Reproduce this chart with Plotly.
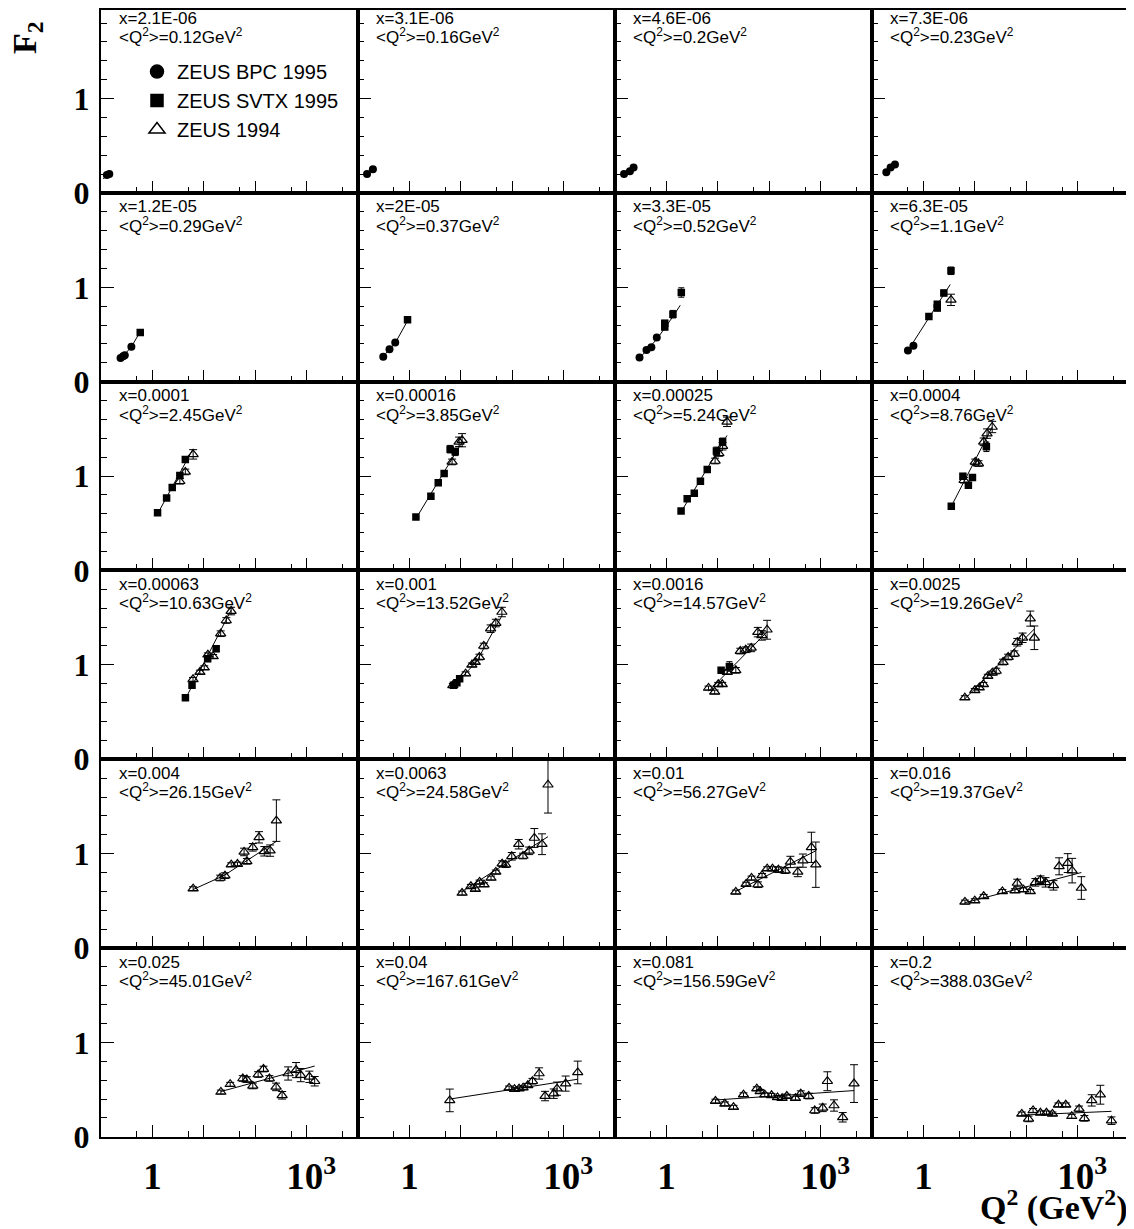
import plotly.graph_objects as go

# ---------------- data ----------------
X_LABELS = ["x=2.1E-06", "x=3.1E-06", "x=4.6E-06", "x=7.3E-06",
            "x=1.2E-05", "x=2E-05", "x=3.3E-05", "x=6.3E-05",
            "x=0.0001", "x=0.00016", "x=0.00025", "x=0.0004",
            "x=0.00063", "x=0.001", "x=0.0016", "x=0.0025",
            "x=0.004", "x=0.0063", "x=0.01", "x=0.016",
            "x=0.025", "x=0.04", "x=0.081", "x=0.2"]
Q2_MEAN = ["0.12", "0.16", "0.2", "0.23", "0.29", "0.37", "0.52", "1.1",
           "2.45", "3.85", "5.24", "8.76", "10.63", "13.52", "14.57", "19.26",
           "26.15", "24.58", "56.27", "19.37", "45.01", "167.61", "156.59", "388.03"]

# ZEUS BPC 1995 (filled circles), per panel
BPC_Q2 = [[0.13, 0.145], [0.15, 0.195], [0.15, 0.195, 0.23], [0.19, 0.23, 0.28],
          [0.24, 0.27, 0.29, 0.39], [0.31, 0.41, 0.53], [0.30, 0.41, 0.51, 0.65], [0.50, 0.64]]
BPC_F2 = [[0.19, 0.20], [0.20, 0.25], [0.20, 0.23, 0.27], [0.22, 0.27, 0.30],
          [0.25, 0.27, 0.28, 0.37], [0.265, 0.343, 0.414], [0.255, 0.336, 0.365, 0.467], [0.33, 0.38]]

# ZEUS SVTX 1995 (filled squares), panels 4..14
SVTX_Q2 = {4: [0.58], 5: [0.92], 6: [0.93, 0.93, 1.34, 1.95],
           7: [1.28, 1.86, 1.86, 2.5, 3.44], 8: [1.26, 1.89, 2.43, 3.42, 4.37],
           9: [1.34, 2.62, 3.64, 4.74, 6.2, 7.8], 10: [1.93, 2.54, 3.49, 4.59, 6.23, 9.4, 12.4],
           11: [3.49, 5.87, 7.5, 9.0, 16.8], 12: [4.39, 5.9, 11.9, 17.4],
           13: [7.2, 8.4, 9.5], 14: [11.6, 16.8]}
SVTX_F2 = {4: [0.52], 5: [0.655], 6: [0.62, 0.58, 0.715, 0.945],
           7: [0.69, 0.78, 0.82, 0.94, 1.175], 8: [0.612, 0.768, 0.878, 1.005, 1.175],
           9: [0.566, 0.786, 0.93, 1.027, 1.285, 1.257], 10: [0.63, 0.761, 0.818, 0.945, 1.069, 1.267, 1.363],
           11: [0.68, 0.998, 0.903, 0.984, 1.31], 12: [0.653, 0.783, 1.065, 1.17],
           13: [0.783, 0.81, 0.854], 14: [0.942, 0.984]}
SVTX_ERR = {4: [0.03], 5: [0.02], 6: [0.03, 0.03, 0.04, 0.05],
            7: [0.02, 0.03, 0.03, 0.03, 0.04], 8: [0.02, 0.02, 0.02, 0.03, 0.03],
            9: [0.02, 0.02, 0.02, 0.02, 0.04, 0.04], 10: [0.02, 0.02, 0.02, 0.02, 0.03, 0.04, 0.04],
            11: [0.02, 0.03, 0.03, 0.03, 0.05], 12: [0.03, 0.02, 0.03, 0.03],
            13: [0.02, 0.02, 0.02], 14: [0.03, 0.05]}

# ZEUS 1994 (open triangles), panels 7..23
Z94_Q2 = {7: [3.44], 8: [3.42, 4.37, 6.2], 9: [6.77, 9.25, 10.6], 10: [8.86, 10.5, 12.4, 15.1],
          11: [6.2, 10.2, 11.8, 14.9, 17.3, 21.8],
          12: [6.17, 8.4, 10.2, 12.0, 15.2, 21.3, 27.4, 34],
          13: [7.0, 12.4, 16.4, 19.1, 23, 28, 38, 48, 63],
          14: [6.6, 8.7, 10.2, 12.2, 15.3, 22.4, 27.4, 35, 44.6, 60, 72, 91],
          15: [6.4, 10, 12.2, 14.7, 17.9, 21.8, 26.1, 35.5, 44.6, 58.6, 67, 85, 120, 144],
          16: [6.2, 20.8, 25.8, 34.2, 45.2, 60.8, 68.9, 89.7, 118.7, 150, 195, 258],
          17: [10.6, 15.7, 19.2, 23.2, 28.4, 38.7, 48, 63.7, 74.5, 98, 134, 162, 214, 270, 380, 497],
          18: [22.4, 35.5, 45.3, 60.4, 72.6, 91.3, 116, 151, 205, 258, 360, 453, 662, 807],
          19: [6.43, 10, 14.9, 34.4, 60.4, 67, 88.5, 120, 151, 190, 238, 339, 437, 643, 783, 1183],
          20: [21.5, 32.6, 57.4, 68.7, 89.8, 114, 145, 189, 255, 334, 437, 624, 769, 1132, 1438],
          21: [6.1, 87, 111, 136, 163, 201, 248, 334, 436, 643, 746, 1097, 1882],
          22: [9.0, 13.7, 20.2, 31.6, 57.4, 66.7, 82, 111, 145, 178, 220, 324, 411, 588, 769, 1099, 1355, 1823, 2690, 4470],
          23: [82, 111, 136, 189, 248, 324, 424, 588, 769, 1069, 1355, 1882, 2770, 4560]}
Z94_F2 = {7: [0.867], 8: [0.945, 1.044, 1.23], 9: [1.15, 1.363, 1.38], 10: [1.16, 1.24, 1.317, 1.575],
          11: [0.956, 1.15, 1.133, 1.363, 1.45, 1.52],
          12: [0.847, 0.924, 0.97, 1.107, 1.09, 1.33, 1.47, 1.57],
          13: [0.783, 0.906, 1.0, 1.03, 1.083, 1.2, 1.383, 1.443, 1.56],
          14: [0.755, 0.713, 0.794, 0.794, 0.924, 0.942, 1.146, 1.16, 1.18, 1.347, 1.312, 1.372],
          15: [0.653, 0.73, 0.758, 0.794, 0.88, 0.914, 0.935, 1.03, 1.083, 1.118, 1.24, 1.287, 1.49, 1.287],
          16: [0.629, 0.742, 0.767, 0.883, 0.89, 1.018, 0.919, 1.067, 1.173, 1.025, 1.032, 1.35],
          17: [0.583, 0.654, 0.625, 0.70, 0.671, 0.742, 0.806, 0.894, 0.883, 0.972, 1.10, 0.975, 1.03, 1.166, 1.10, 1.73],
          18: [0.594, 0.678, 0.742, 0.671, 0.77, 0.841, 0.841, 0.83, 0.82, 0.912, 0.806, 0.926, 1.067, 0.883],
          19: [0.488, 0.502, 0.548, 0.60, 0.608, 0.689, 0.618, 0.60, 0.696, 0.724, 0.696, 0.664, 0.866, 0.90, 0.82, 0.636],
          20: [0.475, 0.557, 0.618, 0.607, 0.539, 0.66, 0.718, 0.618, 0.529, 0.44, 0.671, 0.707, 0.654, 0.636, 0.589],
          21: [0.386, 0.518, 0.504, 0.51, 0.52, 0.546, 0.589, 0.671, 0.432, 0.457, 0.51, 0.564, 0.682],
          22: [0.379, 0.35, 0.314, 0.446, 0.51, 0.482, 0.446, 0.44, 0.418, 0.41, 0.432, 0.41, 0.457, 0.432, 0.279, 0.307, 0.589, 0.332, 0.207, 0.564],
          23: [0.243, 0.19, 0.279, 0.254, 0.254, 0.243, 0.339, 0.339, 0.218, 0.296, 0.196, 0.386, 0.446, 0.171]}
Z94_ERR = {7: [0.06], 8: [0.03, 0.03, 0.05], 9: [0.03, 0.05, 0.07], 10: [0.03, 0.03, 0.04, 0.05],
           11: [0.03, 0.03, 0.03, 0.04, 0.05, 0.06],
           12: [0.02, 0.02, 0.02, 0.02, 0.02, 0.03, 0.03, 0.04],
           13: [0.02, 0.02, 0.02, 0.02, 0.03, 0.03, 0.04, 0.04, 0.05],
           14: [0.02, 0.02, 0.02, 0.02, 0.02, 0.03, 0.03, 0.03, 0.04, 0.05, 0.05, 0.1],
           15: [0.02, 0.02, 0.02, 0.02, 0.02, 0.02, 0.03, 0.03, 0.03, 0.03, 0.04, 0.05, 0.08, 0.125],
           16: [0.02, 0.03, 0.03, 0.02, 0.02, 0.04, 0.03, 0.04, 0.06, 0.05, 0.06, 0.22],
           17: [0.02, 0.02, 0.02, 0.02, 0.02, 0.02, 0.02, 0.03, 0.03, 0.04, 0.05, 0.03, 0.04, 0.1, 0.11, 0.3],
           18: [0.02, 0.02, 0.02, 0.03, 0.02, 0.02, 0.02, 0.03, 0.03, 0.06, 0.05, 0.07, 0.16, 0.24],
           19: [0.02, 0.02, 0.02, 0.02, 0.02, 0.04, 0.02, 0.02, 0.04, 0.04, 0.05, 0.05, 0.09, 0.1, 0.13, 0.12],
           20: [0.02, 0.02, 0.03, 0.03, 0.03, 0.03, 0.03, 0.03, 0.04, 0.04, 0.07, 0.08, 0.07, 0.06, 0.05],
           21: [0.12, 0.02, 0.02, 0.02, 0.02, 0.02, 0.03, 0.06, 0.05, 0.05, 0.07, 0.08, 0.12],
           22: [0.02, 0.02, 0.02, 0.02, 0.02, 0.02, 0.02, 0.02, 0.02, 0.02, 0.02, 0.02, 0.03, 0.03, 0.03, 0.04, 0.1, 0.06, 0.05, 0.2],
           23: [0.02, 0.03, 0.02, 0.02, 0.02, 0.02, 0.02, 0.02, 0.02, 0.03, 0.03, 0.06, 0.1, 0.04]}

# fit curves, per panel
FIT_Q2 = [[0.11, 0.145], [0.15, 0.195], [0.15, 0.23], [0.19, 0.28],
          [0.24, 0.39, 0.58], [0.31, 0.53, 0.92], [0.30, 0.65, 1.34, 1.86], [0.50, 1.28, 3.33],
          [1.26, 6.2], [1.34, 10.6], [1.93, 15.1], [3.49, 21.8],
          [4.39, 34], [7.0, 20, 63], [6.6, 91], [6.4, 144],
          [6.2, 25, 258], [10.6, 497], [22.4, 807], [6.43, 1183],
          [21.5, 1438], [6.1, 1882], [9.0, 4470], [82, 4560]]
FIT_F2 = [[0.15, 0.20], [0.20, 0.25], [0.195, 0.27], [0.22, 0.30],
          [0.24, 0.37, 0.53], [0.27, 0.41, 0.645], [0.25, 0.45, 0.69, 0.81], [0.33, 0.68, 1.03],
          [0.60, 1.29], [0.55, 1.36], [0.62, 1.43], [0.68, 1.52],
          [0.64, 1.58], [0.77, 1.03, 1.52], [0.72, 1.35], [0.64, 1.38],
          [0.62, 0.77, 1.13], [0.60, 1.18], [0.60, 1.03], [0.48, 0.80],
          [0.48, 0.75], [0.40, 0.61], [0.39, 0.49], [0.23, 0.27]]

X_TICKS = [0.1, 1, 10, 100, 1000, 10000]
X_TICKTEXT = ["", "1", "", "", "&nbsp;10<sup>3</sup>", ""]
X_MINOR = [0.5, 5, 50, 500, 5000]
Y_TICKS = [0, 1, 2]
Y_TICKTEXT = ["0", "1", ""]
Y_MINOR = [0.2, 0.4, 0.6, 0.8, 1.2, 1.4, 1.6, 1.8]

# ---------------- layout geometry ----------------
# target positions are given in page pixels; the page body has an 8px margin and the
# captured picture comes out vertically squeezed by ~0.985, so vertical targets are pre-stretched.
OFF = 8
VS = 0.985
W = 1134 - OFF
H = 1240
NCOL, NROW = 4, 6
LEFT0, PW = 101, 257
BOTTOM0, PH = 191, 189


def fx(p):
    return (p - OFF) / W


def fy(p):
    return 1 - (p / VS - OFF) / H


fig = go.Figure()
layout = dict(width=W, height=H, autosize=False, margin=dict(l=0, r=0, t=0, b=0, pad=0),
              paper_bgcolor="white", plot_bgcolor="white", showlegend=True)
annotations = []

for i in range(24):
    r, c = divmod(i, NCOL)
    left = LEFT0 + PW * c
    bottom = BOTTOM0 + PH * r
    top = bottom - PH
    d_top = min(fy(top), 1.0)
    d_bot = fy(bottom)
    # keep 2 F2 units per full panel height even if the top panel is clipped by the page edge
    full = fy(top) - d_bot
    ytop = 2.0 * (d_top - d_bot) / full
    sfx = "" if i == 0 else str(i + 1)
    xa, ya = "x" + sfx, "y" + sfx
    layout["xaxis" + sfx] = dict(
        type="log", range=[-1, 4], domain=[fx(left), min(fx(left + PW), 1)], anchor=ya,
        tickmode="array", tickvals=X_TICKS, ticktext=X_TICKTEXT,
        showticklabels=(r == NROW - 1), ticks="inside", ticklen=12, tickwidth=1.2, tickcolor="black",
        minor=dict(tickmode="array", tickvals=X_MINOR, ticks="inside", ticklen=6, tickwidth=1.2, tickcolor="black"),
        showline=True, linecolor="black", linewidth=2, mirror=True, showgrid=False, zeroline=False,
        tickfont=dict(family="Liberation Serif", size=37, color="black", weight="bold"),
        ticklabelstandoff=6,
    )
    layout["yaxis" + sfx] = dict(
        range=[0, ytop], domain=[d_bot, d_top], anchor=xa,
        tickmode="array", tickvals=Y_TICKS, ticktext=Y_TICKTEXT,
        showticklabels=(c == 0), ticks="inside", ticklen=13, tickwidth=1.2, tickcolor="black",
        minor=dict(tickmode="array", tickvals=Y_MINOR, ticks="inside", ticklen=6, tickwidth=1.2, tickcolor="black"),
        showline=True, linecolor="black", linewidth=2, mirror=True, showgrid=False, zeroline=False,
        tickfont=dict(family="Liberation Serif", size=32, color="black", weight="bold"),
        ticklabelstandoff=3,
    )

    # fit curve
    fig.add_trace(go.Scatter(x=FIT_Q2[i], y=FIT_F2[i], mode="lines", xaxis=xa, yaxis=ya,
                             line=dict(color="black", width=1), showlegend=False, hoverinfo="skip"))
    if i < len(BPC_Q2):
        fig.add_trace(go.Scatter(x=BPC_Q2[i], y=BPC_F2[i], mode="markers", xaxis=xa, yaxis=ya,
                                 marker=dict(symbol="circle", size=8, color="black"),
                                 error_y=dict(type="data", array=[0.01] * len(BPC_Q2[i]), color="black",
                                              thickness=1, width=3),
                                 showlegend=False))
    if i in SVTX_Q2:
        fig.add_trace(go.Scatter(x=SVTX_Q2[i], y=SVTX_F2[i], mode="markers", xaxis=xa, yaxis=ya,
                                 marker=dict(symbol="square", size=7.5, color="black"),
                                 error_y=dict(type="data", array=SVTX_ERR[i], color="black",
                                              thickness=1, width=3),
                                 showlegend=False))
    if i in Z94_Q2:
        fig.add_trace(go.Scatter(x=Z94_Q2[i], y=Z94_F2[i], mode="markers", xaxis=xa, yaxis=ya,
                                 marker=dict(symbol="triangle-up-open", size=9, color="black",
                                             line=dict(width=1.2, color="black")),
                                 error_y=dict(type="data", array=Z94_ERR[i], color="black",
                                              thickness=1, width=4),
                                 showlegend=False))

    annotations.append(dict(xref="paper", yref="paper", x=fx(left + 16), y=fy(top + 14),
                            xanchor="left", yanchor="middle", showarrow=False, text=X_LABELS[i],
                            font=dict(family="Liberation Sans", size=17, color="black")))
    annotations.append(dict(xref="paper", yref="paper", x=fx(left + 16), y=fy(top + 32),
                            xanchor="left", yanchor="middle", showarrow=False,
                            text="&lt;Q<sup>2</sup>&gt;=" + Q2_MEAN[i] + "GeV<sup>2</sup>",
                            font=dict(family="Liberation Sans", size=17, color="black")))

# legend entries
for name, sym, sz in [("ZEUS BPC 1995", "circle", 13), ("ZEUS SVTX 1995", "square", 12),
                      ("ZEUS 1994", "triangle-up-open", 14)]:
    fig.add_trace(go.Scatter(x=[None], y=[None], mode="markers", name=name, xaxis="x", yaxis="y",
                             marker=dict(symbol=sym, size=sz, color="black", line=dict(width=1.5, color="black"))))

annotations.append(dict(xref="paper", yref="paper", x=fx(27), y=fy(36), xanchor="center", yanchor="middle",
                        showarrow=False, textangle=-90, text="<b>F<sub>2</sub></b>",
                        font=dict(family="Liberation Serif", size=34, color="black")))
annotations.append(dict(xref="paper", yref="paper", x=fx(1130), y=fy(1228), xanchor="right", yanchor="bottom",
                        showarrow=False, text="<b>Q<sup>2</sup> (GeV<sup>2</sup>)</b>",
                        font=dict(family="Liberation Serif", size=34, color="black")))

layout["annotations"] = annotations
layout["legend"] = dict(x=fx(137), y=fy(50), xanchor="left", yanchor="top", bgcolor="rgba(0,0,0,0)",
                        font=dict(family="Liberation Sans", size=20, color="black"), tracegroupgap=0,
                        itemwidth=30)
fig.update_layout(**layout)
fig.write_html("out.html", config={"displayModeBar": False})
